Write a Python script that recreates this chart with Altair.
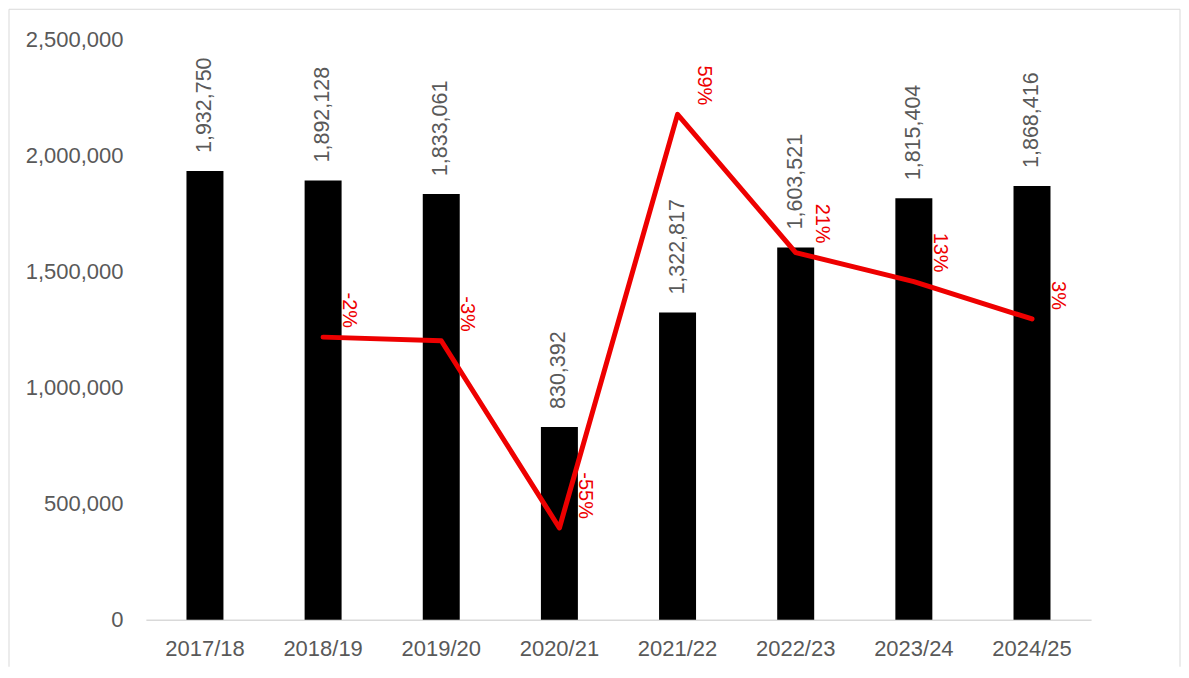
import altair as alt
import pandas as pd

# ---- data ----
years = ["2017/18", "2018/19", "2019/20", "2020/21", "2021/22", "2022/23", "2023/24", "2024/25"]
enrolments = [1932750, 1892128, 1833061, 830392, 1322817, 1603521, 1815404, 1868416]

pct_years = ["2018/19", "2019/20", "2020/21", "2021/22", "2022/23", "2023/24", "2024/25"]
pct_change = [-2.1, -3.1, -54.7, 59.3, 21.2, 13.2, 2.9]
pct_labels = ["-2%", "-3%", "-55%", "59%", "21%", "13%", "3%"]

y_ticks = [0, 500000, 1000000, 1500000, 2000000, 2500000]

FONT = "Liberation Sans"
GREY = "#595959"
RED = "#EE0000"
W, H = 946, 581

bar_df = pd.DataFrame({"year": years, "value": enrolments})
pct_df = pd.DataFrame({"year": pct_years, "pct": pct_change, "label": pct_labels})

x_enc = alt.X(
    "year:N",
    sort=years,
    scale=alt.Scale(paddingInner=0.687, paddingOuter=0.3435),
    axis=alt.Axis(
        title=None, labelAngle=0, labelFont=FONT, labelFontSize=22, labelColor=GREY,
        ticks=False, tickSize=0, domainColor="#D9D9D9", domainWidth=1.5, labelPadding=19,
    ),
)

y_axis = alt.Axis(
    title=None, values=y_ticks, format=",.0f", grid=False, domain=False, ticks=False,
    tickSize=0, labelPadding=23, labelFont=FONT, labelFontSize=22, labelColor=GREY,
)
y_bar = alt.Y("value:Q", scale=alt.Scale(domain=[0, 2500000], nice=False), axis=y_axis)

bars = alt.Chart(bar_df).mark_bar(color="black").encode(x=x_enc, y=y_bar)
bar_text = alt.Chart(bar_df).mark_text(
    angle=270, align="left", baseline="middle", dx=18, font=FONT, fontSize=21.5, color=GREY
).encode(x=x_enc, y=y_bar, text=alt.Text("value:Q", format=",.0f"))

y_pct = alt.Y("pct:Q", scale=alt.Scale(domain=[-80, 80], nice=False), axis=None)
line = alt.Chart(pct_df).mark_line(
    color=RED, strokeWidth=5, strokeCap="round", strokeJoin="round"
).encode(x=x_enc, y=y_pct)
pct_text = alt.Chart(pct_df).mark_text(
    angle=90, align="right", baseline="alphabetic", dx=-9, dy=-20, font=FONT, fontSize=20, color=RED
).encode(x=x_enc, y=y_pct, text="label:N")

# chart-area border (decoration)
one = alt.Data(values=[{}])
border_left = alt.Chart(one).mark_rule(color="#D9D9D9", strokeWidth=1).encode(
    x=alt.value(-137), y=alt.value(-30), y2=alt.value(628))
border_right = alt.Chart(one).mark_rule(color="#D9D9D9", strokeWidth=1).encode(
    x=alt.value(1035), y=alt.value(-30), y2=alt.value(628))
border_top = alt.Chart(one).mark_rule(color="#D9D9D9", strokeWidth=1).encode(
    x=alt.value(-137), x2=alt.value(1035), y=alt.value(-30))

chart = alt.layer(
    alt.layer(bars, bar_text),
    alt.layer(line, pct_text),
    border_left, border_right, border_top,
).resolve_scale(y="independent").properties(
    width=W, height=H, padding=0, background="white"
).configure_view(stroke=None)

chart.save("out.html", embed_options={"renderer": "svg", "actions": False})
